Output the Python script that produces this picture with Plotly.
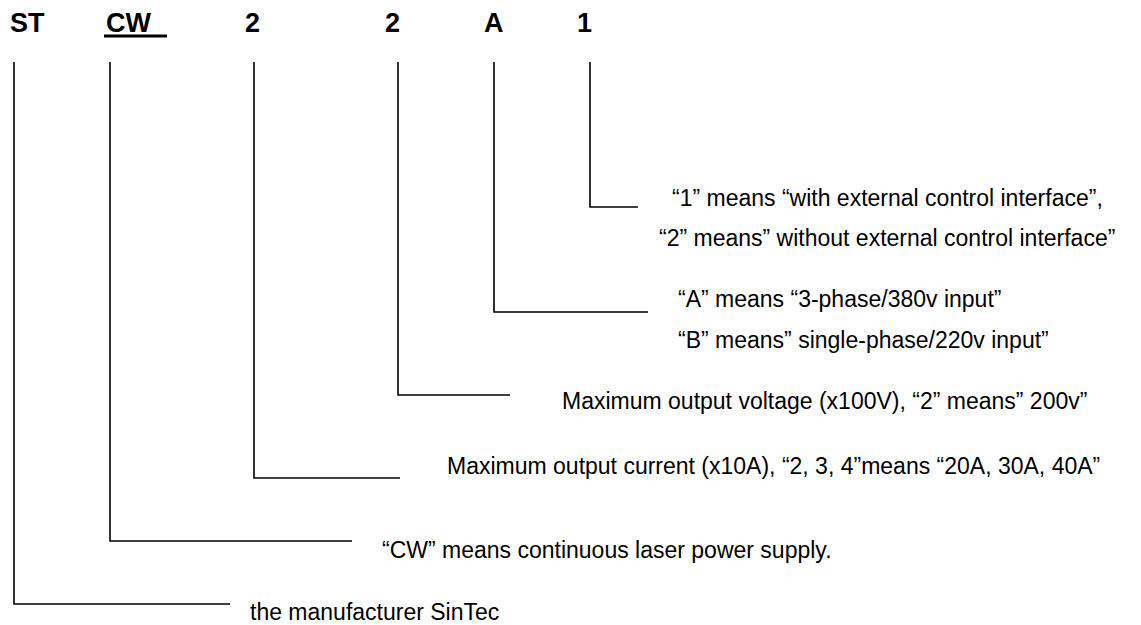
import plotly.graph_objects as go

# --- content ---
codes = ["ST", "CW", "2", "2", "A", "1"]
descriptions = [
    ["the manufacturer SinTec"],
    ["\u201cCW\u201d means continuous laser power supply."],
    ["Maximum output current (x10A), \u201c2, 3, 4\u201dmeans \u201c20A, 30A, 40A\u201d"],
    ["Maximum output voltage (x100V), \u201c2\u201d means\u201d 200v\u201d"],
    ["\u201cA\u201d means \u201c3-phase/380v input\u201d", "\u201cB\u201d means\u201d single-phase/220v input\u201d"],
    ["\u201c1\u201d means \u201cwith external control interface\u201d,", "\u201c2\u201d means\u201d without external control interface\u201d"],
]

# --- layout (page pixel coordinates) ---
code_x = [8, 104, 243, 383, 482, 575]
code_y = 23
stem_x = [14, 110, 254, 398, 494, 590]
stem_top = 62
elbow_y = [604, 541, 478, 395, 312, 207]
elbow_end = [230, 352, 400, 510, 648, 638]
desc_x = [[248], [380], [445], [560], [676, 676], [670, 657]]
desc_y = [[612], [550], [466], [401], [299, 340], [198, 238]]

W, H = 1141, 625
OFF = 8  # page body margin
fig = go.Figure()

for i in range(len(codes)):
    fig.add_trace(go.Scatter(
        x=[stem_x[i], stem_x[i], elbow_end[i]],
        y=[stem_top, elbow_y[i], elbow_y[i]],
        mode="lines", line=dict(color="black", width=1.6),
        hoverinfo="skip", showlegend=False))
    fig.add_annotation(x=code_x[i], y=code_y, text="<b>%s</b>" % codes[i],
                       xanchor="left", yanchor="middle", showarrow=False,
                       font=dict(family="Liberation Sans, Arial", size=27, color="black"))
    for t, tx, ty in zip(descriptions[i], desc_x[i], desc_y[i]):
        fig.add_annotation(x=tx, y=ty, text=t, xanchor="left", yanchor="middle",
                           showarrow=False,
                           font=dict(family="Liberation Sans, Arial", size=23, color="black"))

# underline under "CW"
fig.add_trace(go.Scatter(x=[104, 167], y=[36, 36], mode="lines",
                         line=dict(color="black", width=3),
                         hoverinfo="skip", showlegend=False))

fig.update_layout(
    width=W - OFF, height=H - OFF, margin=dict(l=0, r=0, t=0, b=0),
    paper_bgcolor="white", plot_bgcolor="white",
    xaxis=dict(range=[OFF, W], visible=False, fixedrange=True),
    yaxis=dict(range=[H, OFF], visible=False, fixedrange=True),
)
fig.write_html("out.html")
